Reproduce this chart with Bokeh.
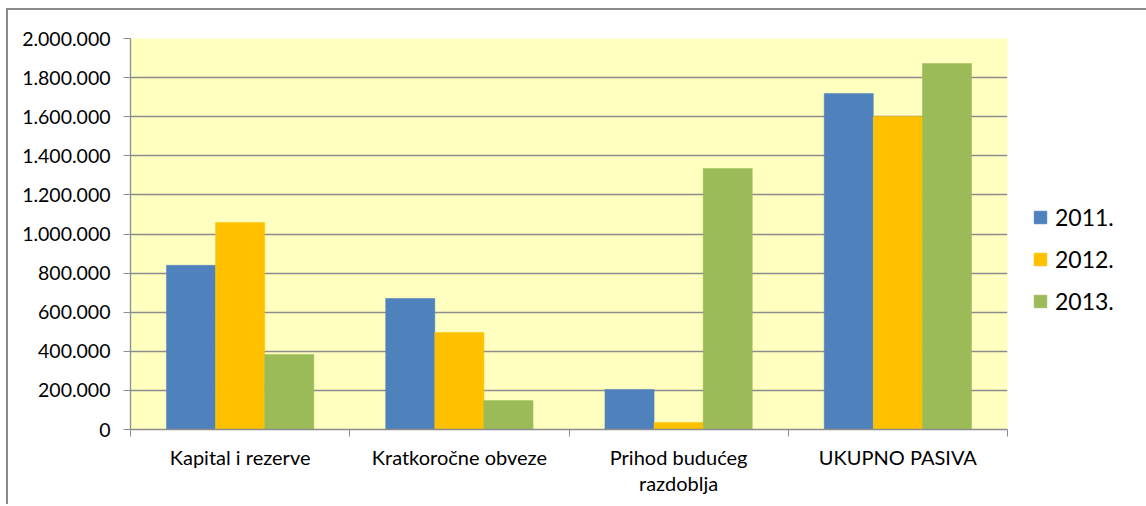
import numpy as np
from bokeh.plotting import figure
from bokeh.models import (Range1d, FixedTicker, CustomJSTickFormatter, Legend, LegendItem,
                          ColumnDataSource)
from bokeh.embed import file_html
from bokeh.resources import INLINE

categories = ["Kapital i rezerve", "Kratkoročne obveze", "Prihod budućeg\nrazdoblja", "UKUPNO PASIVA"]
years = ["2011.", "2012.", "2013."]
v2011 = [840000, 670000, 205000, 1719000]
v2012 = [1059000, 496000, 36000, 1601000]
v2013 = [384000, 148000, 1335000, 1872000]
y_ticks = [0, 200000, 400000, 600000, 800000, 1000000, 1200000, 1400000, 1600000, 1800000, 2000000]

series = [v2011, v2012, v2013]
colors = ["#4F81BD", "#FFC000", "#9BBB59"]
FONT = "Lato"

p = figure(frame_width=877, frame_height=391, output_backend="svg", toolbar_location=None,
           x_range=Range1d(0, len(categories)), y_range=Range1d(0, 2000000),
           min_border_left=122, min_border_top=28, min_border_right=0, min_border_bottom=75)
p.styles = {"border-top": "2px solid #8a8a8a", "border-left": "2px solid #8a8a8a",
            "margin-left": "6px", "margin-top": "8px"}

p.background_fill_color = "#FFFFC0"
p.border_fill_color = "white"
p.outline_line_color = None

centers = np.arange(len(categories)) + 0.5
bw = 0.224
items = []
for i, (vals, col, yr) in enumerate(zip(series, colors, years)):
    src = ColumnDataSource(dict(x=centers + (i - 1) * bw, top=vals))
    r = p.vbar(x="x", top="top", width=bw, bottom=0, source=src,
               fill_color=col, line_color=col, line_width=0.5)
    items.append(LegendItem(label=yr, renderers=[r]))

# grid
p.xgrid.visible = False
p.ygrid.ticker = FixedTicker(ticks=y_ticks)
p.ygrid.grid_line_color = "#8c8c8c"
p.ygrid.grid_line_width = 1.3

# y axis
ya = p.yaxis[0]
ya.ticker = FixedTicker(ticks=y_ticks)
ya.formatter = CustomJSTickFormatter(code="""
return tick.toFixed(0).replace(/\\B(?=(\\d{3})+(?!\\d))/g, ".");
""")
ya.axis_line_color = "#8c8c8c"
ya.axis_line_width = 1.3
ya.major_tick_line_color = "#8c8c8c"
ya.major_tick_out = 7
ya.major_tick_in = 0
ya.minor_tick_line_color = None
ya.major_label_standoff = 13
ya.major_label_text_font = FONT
ya.major_label_text_font_size = "19.5px"
ya.major_label_text_color = "#000000"

# x axis
xa = p.xaxis[0]
xa.ticker = FixedTicker(ticks=list(centers), minor_ticks=list(np.arange(len(categories) + 1)))
xa.major_label_overrides = {float(c): lab for c, lab in zip(centers, categories)}
xa.axis_line_color = "#8c8c8c"
xa.axis_line_width = 1.3
xa.major_tick_line_color = None
xa.major_tick_out = 0
xa.major_tick_in = 0
xa.minor_tick_line_color = "#8c8c8c"
xa.minor_tick_out = 7
xa.minor_tick_in = 0
xa.major_label_standoff = 8
xa.major_label_text_font = FONT
xa.major_label_text_font_size = "20px"
xa.major_label_text_line_height = 1.1
xa.major_label_text_color = "#000000"

legend = Legend(items=items, location=(25, 114), orientation="vertical",
                padding=0, margin=0, spacing=14, glyph_width=16, glyph_height=16,
                label_height=28, label_standoff=7,
                label_text_font=FONT, label_text_font_size="23px", label_text_color="#000000",
                background_fill_alpha=0, border_line_color=None)
p.add_layout(legend, "right")

open("out.html", "w").write(file_html(p, INLINE))
